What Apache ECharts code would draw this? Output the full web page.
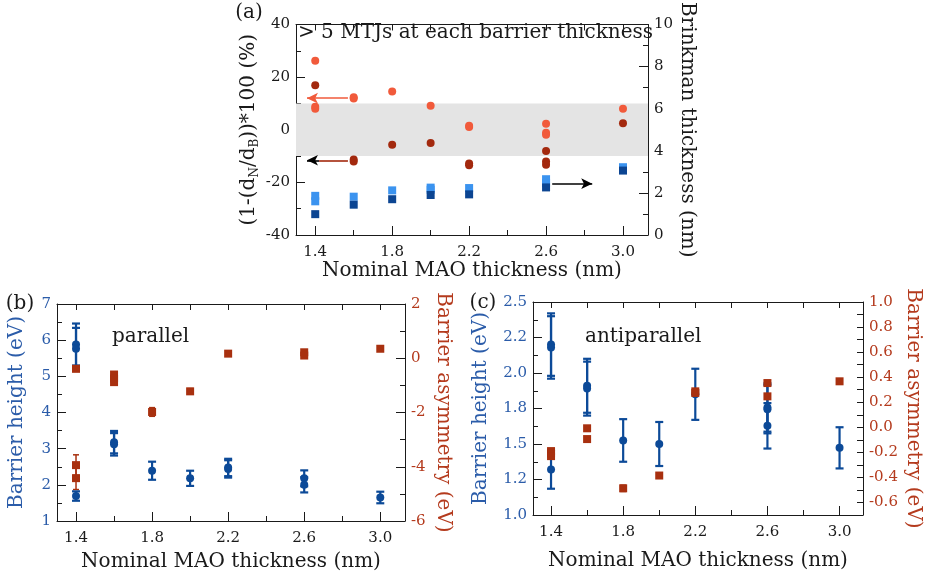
<!DOCTYPE html>
<html><head><meta charset="utf-8">
<script src="https://cdn.jsdelivr.net/npm/echarts@6/dist/echarts.min.js"></script>
<style>html,body{margin:0;padding:0;background:#fff}#c{width:931px;height:578px}</style>
</head><body><div id="c"></div><script>
// ---------- data ----------
const xLabelValues = [1.4, 1.8, 2.2, 2.6, 3.0];
const xMinorValues = [1.6, 2.0, 2.4, 2.8];
const xAllValues = [1.4, 1.6, 1.8, 2.0, 2.2, 2.4, 2.6, 2.8, 3.0];

// panel (a): left axis (%) points
const aOrange = [[1.4,26.2],[1.4,8.7],[1.4,8.0],[1.6,11.9],[1.6,12.3],[1.8,14.5],[2.0,9.1],[2.2,1.0],[2.2,1.5],[2.6,2.3],[2.6,-1.1],[2.6,-1.9],[3.0,8.0]];
const aDarkRed = [[1.4,16.9],[1.6,-11.3],[1.6,-12.1],[1.8,-5.7],[2.0,-5.0],[2.2,-12.8],[2.2,-13.5],[2.6,-8.1],[2.6,-12.1],[2.6,-13.3],[3.0,2.5]];
// panel (a): right axis (Brinkman thickness, nm)
const aLightBlue = [[1.4,1.86],[1.4,1.6],[1.6,1.82],[1.8,2.12],[2.0,2.25],[2.0,2.15],[2.2,2.23],[2.6,2.65],[2.6,2.47],[3.0,3.22]];
const aDarkBlue = [[1.4,0.99],[1.6,1.44],[1.8,1.70],[2.0,1.90],[2.2,1.93],[2.6,2.26],[3.0,3.06]];
const aBand = [10, -10];
const aArrowOrange = [[1.57,12],[1.357,12]];
const aArrowDark = [[1.57,-11.6],[1.42,-11.6],[1.357,-11.6]];
const aArrowRight = [[2.632,2.44],[2.84,2.44]];

// panel (b) parallel: [x, value, error]
const bHeight = [[1.4,5.88,0.58],[1.4,5.76,0.58],[1.4,1.69,0.13],[1.6,3.18,0.31],[1.6,3.12,0.31],[1.8,2.39,0.25],[2.0,2.18,0.21],[2.2,2.48,0.24],[2.2,2.44,0.24],[2.6,2.18,0.22],[2.6,2.0,0.21],[3.0,1.65,0.16]];
const bAsym = [[1.4,-0.39,0.04],[1.4,-3.94,0.38],[1.4,-4.42,0.42],[1.6,-0.6,0.05],[1.6,-0.75,0.05],[1.6,-0.88,0.05],[1.8,-1.98,0.16],[2.0,-1.22,0.1],[2.2,0.17,0.05],[2.6,0.22,0.05],[2.6,0.1,0.05],[3.0,0.35,0.04]];

// panel (c) antiparallel: [x, value, error]
const cHeight = [[1.4,2.20,0.22],[1.4,2.18,0.22],[1.4,1.32,0.135],[1.6,1.91,0.19],[1.6,1.89,0.19],[1.8,1.525,0.15],[2.0,1.50,0.155],[2.2,1.85,0.18],[2.6,1.757,0.17],[2.6,1.745,0.17],[2.6,1.628,0.16],[3.0,1.473,0.145]];
const cAsym = [[1.4,-0.19,0.02],[1.4,-0.21,0.02],[1.4,-0.23,0.02],[1.6,-0.008,0.02],[1.6,-0.094,0.015],[1.8,-0.487,0.025],[2.0,-0.385,0.02],[2.2,0.287,0.02],[2.2,0.274,0.02],[2.6,0.353,0.02],[2.6,0.247,0.02],[3.0,0.367,0.02]];

const cLeftTickLabels = ['1.0','1.2','1.5','1.8','2.0','2.2','2.5'];
const cRightLabelValues = [-0.6,-0.4,-0.2,0,0.2,0.4,0.6,0.8,1.0];
const cRightTickValues = [-0.6,-0.5,-0.4,-0.3,-0.2,-0.1,0,0.1,0.2,0.3,0.4,0.5,0.6,0.7,0.8,0.9];

// ---------- style ----------
const FONT = 'DejaVu Serif';
const INK = '#1a1a1a';
const C = {orange:'#f15a3b', darkRed:'#a3290e', lightBlue:'#3b93ef', darkBlue:'#0c4592',
           blue:'#0c4a98', red:'#a8300f', blueText:'#2b5ca9', redText:'#b43a1d'};
const xMin = 1.3, xMax = 3.13;
const grids = [
  {left:296, top:12, width:352, height:223},
  {left:57, top:304, width:348, height:217},
  {left:533, top:302, width:330, height:213}
];
const xNameGaps = [26, 31, 36];

const xAxes = [], yAxes = [];
grids.forEach((g, k) => {
  xAxes.push({gridIndex:k, type:'value', min:xMin, max:xMax, position:'bottom',
    axisLine:{show:true, onZero:false, lineStyle:{color:INK, width:1}},
    axisTick:{show:true, inside:true, length:9, customValues:xLabelValues, lineStyle:{color:INK}},
    axisLabel:{show:true, customValues:xLabelValues, formatter:v=>v.toFixed(1), fontFamily:FONT, fontSize:15, color:INK, margin:10},
    splitLine:{show:false},
    name:'Nominal MAO thickness (nm)', nameLocation:'middle', nameGap:xNameGaps[k],
    nameTextStyle:{fontFamily:FONT, fontSize:20, color:INK}});
  xAxes.push({gridIndex:k, type:'value', min:xMin, max:xMax, position:'bottom',
    axisLine:{show:false, onZero:false},
    axisTick:{show:true, inside:true, length:5, customValues:xMinorValues, lineStyle:{color:INK}},
    axisLabel:{show:false}, splitLine:{show:false}});
  xAxes.push({gridIndex:k, type:'value', min:xMin, max:xMax, position:'top',
    axisLine:{show:true, onZero:false, lineStyle:{color:INK, width:1}},
    axisTick:{show:true, inside:true, length:6, customValues:xAllValues, lineStyle:{color:INK}},
    axisLabel:{show:false}, splitLine:{show:false}});
});

function yAx(k, pos, extra, labelColor, name, nameGap, nameColor, rich) {
  return Object.assign({gridIndex:k, type:'value', position:pos,
    axisLine:{show:true, onZero:false, lineStyle:{color:INK, width:1}},
    axisTick:{show:true, inside:true, length:9, lineStyle:{color:INK}},
    minorTick:{show:true, splitNumber:2, length:5, lineStyle:{color:INK}},
    axisLabel:{fontFamily:FONT, fontSize:15, color:labelColor, margin:6},
    splitLine:{show:false}, minorSplitLine:{show:false},
    name:name, nameLocation:'middle', nameGap:nameGap,
    nameRotate: pos === 'right' ? -90 : 90,
    nameTextStyle:{fontFamily:FONT, fontSize:20, color:nameColor, rich:rich}}, extra);
}
const subRich = {a:{fontFamily:FONT, fontSize:20, color:INK, lineHeight:24},
                 s:{fontFamily:FONT, fontSize:12, color:INK, verticalAlign:'bottom', lineHeight:24, padding:[10,0,0,0]}};
yAxes.push(yAx(0,'left',{min:-40,max:40,interval:20},INK,'{a|(1-(d}{s|N}{a|/d}{s|B}{a|))*100 (%)}',35,INK,subRich));
yAxes.push(yAx(0,'right',{min:0,max:10,interval:2},INK,'Brinkman thickness (nm)',25,INK));
yAxes.push(yAx(1,'left',{min:1,max:7,interval:1},C.blueText,'Barrier height (eV)',30,C.blueText));
yAxes.push(yAx(1,'right',{min:-6,max:2,interval:2},C.redText,'Barrier asymmetry (eV)',28,C.redText));
const cl = yAx(2,'left',{min:1.0,max:2.5,interval:0.25},C.blueText,'Barrier height (eV)',42,C.blueText);
cl.axisLabel.formatter = v => cLeftTickLabels[Math.round((v - 1.0) / 0.25)];
yAxes.push(cl);
const cr = yAx(2,'right',{min:-0.7,max:1.0},C.redText,'Barrier asymmetry (eV)',40,C.redText);
cr.minorTick = {show:false};
cr.axisTick = {show:true, inside:true, length:6, customValues:cRightTickValues, lineStyle:{color:INK}};
cr.axisLabel.customValues = cRightLabelValues;
cr.axisLabel.formatter = v => v.toFixed(1);
yAxes.push(cr);

function errRender(capW, lw) {
  return function (params, api) {
    const x = api.value(0), y = api.value(1), e = api.value(2);
    const top = api.coord([x, y + e]), bot = api.coord([x, y - e]);
    const st = {stroke: api.visual('color'), lineWidth: lw};
    return {type:'group', children:[
      {type:'line', shape:{x1:top[0], y1:top[1], x2:bot[0], y2:bot[1]}, style:st},
      {type:'line', shape:{x1:top[0]-capW/2, y1:top[1], x2:top[0]+capW/2, y2:top[1]}, style:st},
      {type:'line', shape:{x1:bot[0]-capW/2, y1:bot[1], x2:bot[0]+capW/2, y2:bot[1]}, style:st}
    ]};
  };
}
function errSeries(xi, yi, data, color, capW, lw) {
  return {type:'custom', xAxisIndex:xi, yAxisIndex:yi, data:data, encode:{x:0, y:1},
    itemStyle:{color:color}, renderItem:errRender(capW, lw), z:3, silent:true};
}
function pts(xi, yi, data, color, symbol, size, z) {
  return {type:'scatter', xAxisIndex:xi, yAxisIndex:yi, data:data.map(d => [d[0], d[1]]),
    symbol:symbol, symbolSize:size, itemStyle:{color:color, opacity:1}, z:z, silent:true};
}
function arrow(p0, p1, color, head) {
  const ls = {color:color, width:1.6, type:'solid'};
  return [{coord:p0, symbol:'none', lineStyle:ls}, {coord:p1, symbol: head ? 'arrow' : 'none', lineStyle:ls}];
}
const mlBase = {silent:true, label:{show:false}, symbolSize:[8,11], animation:false};

const series = [
  {type:'line', xAxisIndex:0, yAxisIndex:0, data:[], z:1, silent:true,
   markArea:{silent:true, itemStyle:{color:'#e4e4e4'}, data:[[{yAxis:aBand[0]}, {yAxis:aBand[1]}]]}},
  pts(0, 0, aOrange, C.orange, 'circle', 8, 3),
  pts(0, 0, aDarkRed, C.darkRed, 'circle', 8, 4),
  pts(0, 1, aLightBlue, C.lightBlue, 'rect', 8, 3),
  pts(0, 1, aDarkBlue, C.darkBlue, 'rect', 8, 4),
  {type:'line', xAxisIndex:0, yAxisIndex:0, data:[], z:5, silent:true,
   markLine:Object.assign({}, mlBase, {data:[
     arrow(aArrowOrange[0], aArrowOrange[1], C.orange, true),
     arrow(aArrowDark[0], aArrowDark[1], C.darkRed, false),
     arrow(aArrowDark[1], aArrowDark[2], '#000', true)
   ]})},
  {type:'line', xAxisIndex:0, yAxisIndex:1, data:[], z:5, silent:true,
   markLine:Object.assign({}, mlBase, {data:[arrow(aArrowRight[0], aArrowRight[1], '#000', true)]})},
  // panel b
  errSeries(3, 3, bAsym, C.red, 6, 1.5),
  pts(3, 3, bAsym, C.red, 'rect', 8, 4),
  errSeries(3, 2, bHeight, C.blue, 8, 2.2),
  pts(3, 2, bHeight, C.blue, 'circle', 8, 5),
  // panel c
  errSeries(6, 4, cHeight, C.blue, 8, 2.2),
  pts(6, 4, cHeight, C.blue, 'circle', 8, 4),
  errSeries(6, 5, cAsym, C.red, 6, 1.5),
  pts(6, 5, cAsym, C.red, 'rect', 8, 5)
];

const txt = (x, y, text, align, size) => ({type:'text', x:x, y:y, silent:true,
  style:{text:text, fill:INK, font:(size||20)+'px "'+FONT+'"', textAlign:align||'left', textVerticalAlign:'middle'}});

const chart = echarts.init(document.getElementById('c'), null, {renderer:'canvas'});
chart.setOption({
  animation:false,
  backgroundColor:'#fff',
  grid:grids,
  xAxis:xAxes, yAxis:yAxes, series:series,
  graphic:[
    txt(298, 33, '> 5 MTJs at each barrier thickness', 'left', 20),
    txt(249, 13, '(a)', 'center', 20),
    txt(20, 304, '(b)', 'center', 20),
    txt(483, 303, '(c)', 'center', 20),
    txt(112, 337, 'parallel', 'left', 20),
    txt(585, 337, 'antiparallel', 'left', 20)
  ]
});
</script></body></html>
